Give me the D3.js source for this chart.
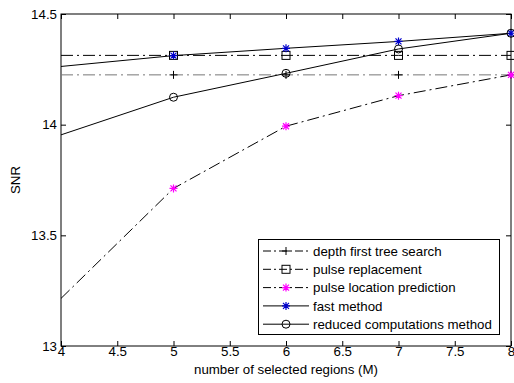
<!DOCTYPE html>
<html>
<head>
<meta charset="utf-8">
<script src="https://cdn.jsdelivr.net/npm/d3@7"></script>
<style>
  body { margin: 0; background: #fff; }
  text { font-family: "Liberation Sans", Arial, sans-serif; font-size: 13.3px; fill: #000; }
</style>
</head>
<body>
<svg id="chart" width="514" height="383"></svg>
<script>
const svg = d3.select("#chart");

const width = 514;
const height = 383;
const marginTop = 14;
const marginRight = 3;
const marginBottom = 37;
const marginLeft = 61;

const regions = [4, 5, 6, 7, 8];
const depthFirst = [14.225, 14.225, 14.225, 14.225, 14.225];
const pulseReplacement = [14.313, 14.313, 14.313, 14.313, 14.313];
const locationPrediction = [13.215, 13.712, 13.993, 14.131, 14.225];
const fastMethod = [14.263, 14.312, 14.345, 14.376, 14.413];
const reducedComputations = [13.954, 14.124, 14.232, 14.342, 14.413];

const xTicks = [4, 4.5, 5, 5.5, 6, 6.5, 7, 7.5, 8];
const yTicks = [13, 13.5, 14, 14.5];

const series = [
  {name: "depth first tree search", values: depthFirst, stroke: "#777", dash: "12,4,2,4", marker: "plus", mcolor: "#000"},
  {name: "pulse replacement", values: pulseReplacement, stroke: "#000", dash: "12,4,2,4", marker: "square", mcolor: "#000"},
  {name: "pulse location prediction", values: locationPrediction, stroke: "#000", dash: "12,4,2,4", marker: "star", mcolor: "#ff00ff"},
  {name: "fast method", values: fastMethod, stroke: "#000", dash: null, marker: "star", mcolor: "#0000cc"},
  {name: "reduced computations method", values: reducedComputations, stroke: "#000", dash: null, marker: "circle", mcolor: "#000"}
];

const x = d3.scaleLinear().domain([4, 8]).range([marginLeft, width - marginRight]);
const y = d3.scaleLinear().domain([13, 14.5]).range([height - marginBottom, marginTop]);

// box
svg.append("rect")
  .attr("x", x(4)).attr("y", y(14.5))
  .attr("width", x(8) - x(4)).attr("height", y(13) - y(14.5))
  .attr("fill", "none").attr("stroke", "#000");

// ticks, inward on all four sides
const tl = 5;
const xb = svg.append("g").attr("transform", `translate(0,${y(13)})`)
  .call(d3.axisBottom(x).tickValues(xTicks).tickSizeInner(-tl).tickSizeOuter(0).tickPadding(1).tickFormat(d3.format("")));
const xt = svg.append("g").attr("transform", `translate(0,${y(14.5)})`)
  .call(d3.axisTop(x).tickValues(xTicks).tickSizeInner(-tl).tickSizeOuter(0).tickFormat(""));
const yl = svg.append("g").attr("transform", `translate(${x(4)},0)`)
  .call(d3.axisLeft(y).tickValues(yTicks).tickSizeInner(-tl).tickSizeOuter(0).tickPadding(4).tickFormat(d3.format("")));
const yr = svg.append("g").attr("transform", `translate(${x(8)},0)`)
  .call(d3.axisRight(y).tickValues(yTicks).tickSizeInner(-tl).tickSizeOuter(0).tickFormat(""));
[xb, xt, yl, yr].forEach(g => {
  g.select(".domain").remove();
  g.selectAll("text").attr("font-size", 13.3).attr("font-family", "Liberation Sans, Arial, sans-serif").attr("fill", "#000");
  g.selectAll("line").attr("stroke", "#000");
});

// axis titles
svg.append("text")
  .attr("x", (x(4) + x(8)) / 2).attr("y", 374)
  .attr("text-anchor", "middle")
  .text("number of selected regions (M)");
svg.append("text")
  .attr("transform", `translate(20,${(y(13) + y(14.5)) / 2}) rotate(-90)`)
  .attr("text-anchor", "middle")
  .text("SNR");

function drawMarker(g, type, cx, cy, color) {
  if (type === "plus") {
    g.append("path").attr("d", `M${cx - 4},${cy}H${cx + 4}M${cx},${cy - 4}V${cy + 4}`)
      .attr("stroke", color).attr("stroke-width", 1);
  } else if (type === "square") {
    g.append("rect").attr("x", cx - 4).attr("y", cy - 4).attr("width", 8).attr("height", 8)
      .attr("fill", "none").attr("stroke", "#000");
  } else if (type === "circle") {
    g.append("circle").attr("cx", cx).attr("cy", cy).attr("r", 4)
      .attr("fill", "none").attr("stroke", "#000");
  } else if (type === "star") {
    g.append("path").attr("d", `M${cx - 4},${cy}H${cx + 4}M${cx},${cy - 4}V${cy + 4}M${cx - 3},${cy - 3}L${cx + 3},${cy + 3}M${cx - 3},${cy + 3}L${cx + 3},${cy - 3}`)
      .attr("stroke", color).attr("stroke-width", 1.2);
  }
}

const line = d3.line().x((d, i) => x(regions[i])).y(d => y(d));

const plot = svg.append("g");
series.forEach(s => {
  plot.append("path")
    .datum(s.values)
    .attr("d", line)
    .attr("fill", "none")
    .attr("stroke", s.stroke)
    .attr("stroke-width", 1)
    .attr("stroke-dasharray", s.dash);
});
series.forEach(s => {
  s.values.forEach((v, i) => {
    if (regions[i] === 4) return;
    drawMarker(plot, s.marker, x(regions[i]), y(v), s.mcolor);
  });
});

// legend
const lg = svg.append("g");
lg.append("rect")
  .attr("x", 258.5).attr("y", 239.5).attr("width", 241).attr("height", 95)
  .attr("fill", "#fff").attr("stroke", "#000");
series.forEach((s, i) => {
  const ly = 251 + i * 18.3;
  lg.append("line")
    .attr("x1", 263).attr("x2", 309).attr("y1", ly).attr("y2", ly)
    .attr("stroke", "#000").attr("stroke-dasharray", s.dash ? "8,3,2,3" : null);
  drawMarker(lg, s.marker, 286, ly, s.mcolor);
  lg.append("text").attr("x", 313).attr("y", ly).attr("dy", "0.35em").text(s.name);
});
</script>
</body>
</html>
